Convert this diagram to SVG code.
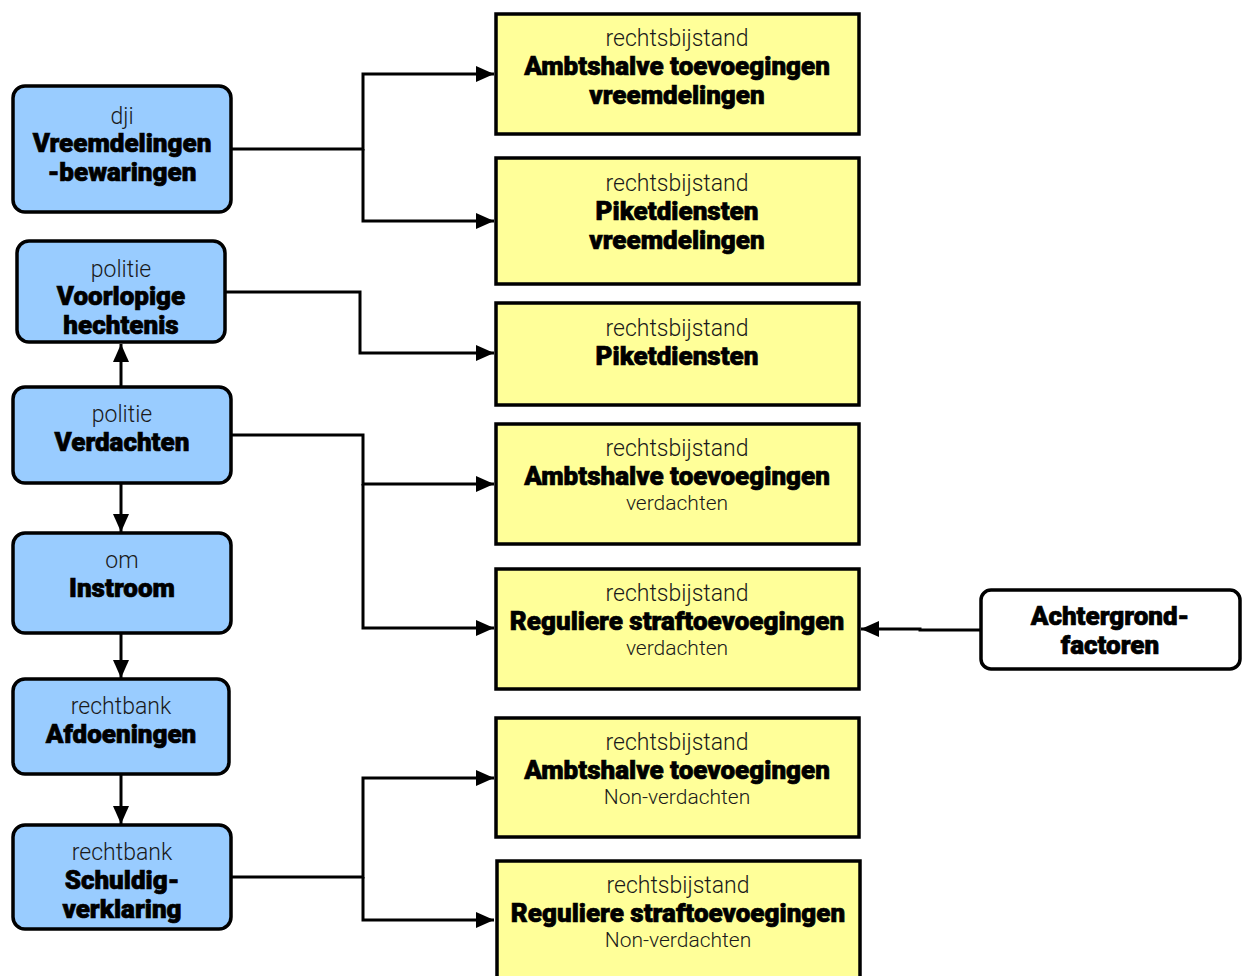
<svg xmlns="http://www.w3.org/2000/svg" width="1249" height="976" viewBox="0 0 1249 976">
<style>
.blue{fill:#99ccff;stroke:#000;stroke-width:3.5}
.yel{fill:#ffff99;stroke:#000;stroke-width:3.5}
.wht{fill:#fff;stroke:#000;stroke-width:3.5}
.lt{font-family:Roboto,"Liberation Sans",sans-serif;font-weight:300;font-size:23px;fill:#1a1a1a;text-anchor:middle}
.sm{font-family:Roboto,"Liberation Sans",sans-serif;font-weight:300;font-size:21px;fill:#1a1a1a;text-anchor:middle}
.bd{font-family:Roboto,"Liberation Sans",sans-serif;font-weight:900;font-size:26px;fill:#000;stroke:#000;stroke-width:0.7;text-anchor:middle}
.ln{fill:none;stroke:#000;stroke-width:3}
</style>
<defs>
<marker id="ah" markerWidth="18" markerHeight="16" refX="18" refY="8" orient="auto" markerUnits="userSpaceOnUse">
<path d="M0,0 L18,8 L0,16 Z" fill="#000"/>
</marker>
</defs>
<g id="connectors">
<path class="ln" d="M231,149 H363 V74 H494" marker-end="url(#ah)"/>
<path class="ln" d="M363,149 V221 H494" marker-end="url(#ah)"/>
<path class="ln" d="M225,292 H360 V353 H494" marker-end="url(#ah)"/>
<path class="ln" d="M231,435 H363 V484 H494" marker-end="url(#ah)"/>
<path class="ln" d="M363,484 V628 H494" marker-end="url(#ah)"/>
<path class="ln" d="M121,387 V344" marker-end="url(#ah)"/>
<path class="ln" d="M121,483 V532" marker-end="url(#ah)"/>
<path class="ln" d="M121,633 V678" marker-end="url(#ah)"/>
<path class="ln" d="M121,774 V824" marker-end="url(#ah)"/>
<path class="ln" d="M231,877 H363 V778 H494" marker-end="url(#ah)"/>
<path class="ln" d="M363,877 V920 H494" marker-end="url(#ah)"/>
<path class="ln" d="M981,630 H920 V629 H861" marker-end="url(#ah)"/>
</g>
<g id="n-dji">
<rect class="blue" x="13" y="86" width="218" height="126" rx="12"/>
<text class="lt" x="122" y="124">dji</text>
<text class="bd" x="122" y="152">Vreemdelingen</text>
<text class="bd" x="122" y="181">-bewaringen</text>
</g>
<g id="n-voorlopige">
<rect class="blue" x="17" y="241" width="208" height="101" rx="12"/>
<text class="lt" x="121" y="277">politie</text>
<text class="bd" x="121" y="305">Voorlopige</text>
<text class="bd" x="121" y="334">hechtenis</text>
</g>
<g id="n-verdachten">
<rect class="blue" x="13" y="387" width="218" height="96" rx="12"/>
<text class="lt" x="122" y="422">politie</text>
<text class="bd" x="122" y="451">Verdachten</text>
</g>
<g id="n-instroom">
<rect class="blue" x="13" y="533" width="218" height="100" rx="12"/>
<text class="lt" x="122" y="568">om</text>
<text class="bd" x="122" y="597">Instroom</text>
</g>
<g id="n-afdoeningen">
<rect class="blue" x="13" y="679" width="216" height="95" rx="12"/>
<text class="lt" x="121" y="714">rechtbank</text>
<text class="bd" x="121" y="743">Afdoeningen</text>
</g>
<g id="n-schuldig">
<rect class="blue" x="13" y="825" width="218" height="104" rx="12"/>
<text class="lt" x="122" y="860">rechtbank</text>
<text class="bd" x="122" y="889">Schuldig-</text>
<text class="bd" x="122" y="918">verklaring</text>
</g>
<g id="n-ambt-vreemd">
<rect class="yel" x="496" y="14" width="363" height="120"/>
<text class="lt" x="677" y="46">rechtsbijstand</text>
<text class="bd" x="677" y="75">Ambtshalve toevoegingen</text>
<text class="bd" x="677" y="104">vreemdelingen</text>
</g>
<g id="n-piket-vreemd">
<rect class="yel" x="496" y="158" width="363" height="126"/>
<text class="lt" x="677" y="191">rechtsbijstand</text>
<text class="bd" x="677" y="220">Piketdiensten</text>
<text class="bd" x="677" y="249">vreemdelingen</text>
</g>
<g id="n-piket">
<rect class="yel" x="496" y="303" width="363" height="102"/>
<text class="lt" x="677" y="336">rechtsbijstand</text>
<text class="bd" x="677" y="365">Piketdiensten</text>
</g>
<g id="n-ambt-verd">
<rect class="yel" x="496" y="424" width="363" height="120"/>
<text class="lt" x="677" y="456">rechtsbijstand</text>
<text class="bd" x="677" y="485">Ambtshalve toevoegingen</text>
<text class="sm" x="677" y="510">verdachten</text>
</g>
<g id="n-reg-verd">
<rect class="yel" x="496" y="569" width="363" height="120"/>
<text class="lt" x="677" y="601">rechtsbijstand</text>
<text class="bd" x="677" y="630">Reguliere straftoevoegingen</text>
<text class="sm" x="677" y="655">verdachten</text>
</g>
<g id="n-ambt-non">
<rect class="yel" x="496" y="718" width="363" height="119"/>
<text class="lt" x="677" y="750">rechtsbijstand</text>
<text class="bd" x="677" y="779">Ambtshalve toevoegingen</text>
<text class="sm" x="677" y="804">Non-verdachten</text>
</g>
<g id="n-reg-non">
<rect class="yel" x="497" y="861" width="363" height="130"/>
<text class="lt" x="678" y="893">rechtsbijstand</text>
<text class="bd" x="678" y="922">Reguliere straftoevoegingen</text>
<text class="sm" x="678" y="947">Non-verdachten</text>
</g>
<g id="n-achtergrond">
<rect class="wht" x="981" y="590" width="259" height="79" rx="10"/>
<text class="bd" x="1110" y="625">Achtergrond-</text>
<text class="bd" x="1110" y="654">factoren</text>
</g>
</svg>
